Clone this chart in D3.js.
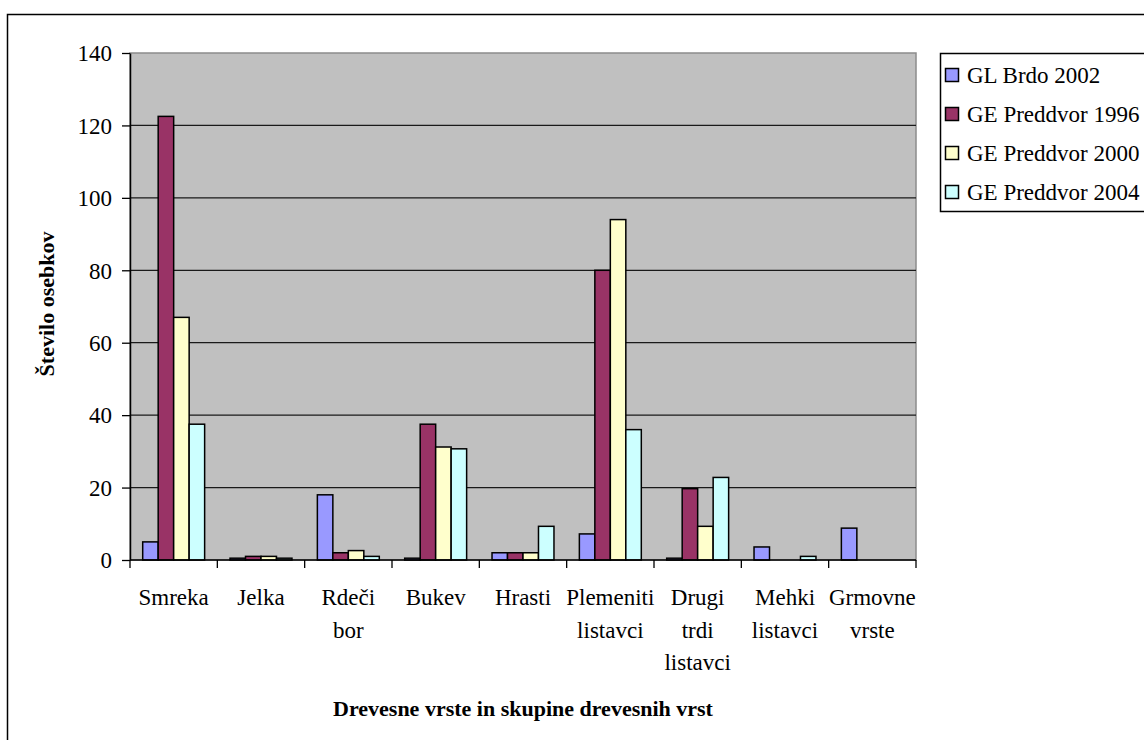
<!DOCTYPE html>
<html>
<head>
<meta charset="utf-8">
<script src="https://cdn.jsdelivr.net/npm/d3@7"></script>
<style>
  html, body { margin: 0; padding: 0; background: #fff; }
  svg { display: block; }
</style>
</head>
<body>
<svg id="chart" width="1144" height="740"></svg>
<script>
const FONT = "Liberation Serif";

// Tree species groups (x-axis categories, line breaks as drawn)
const categories = [
  ["Smreka"], ["Jelka"], ["Rdeči", "bor"], ["Bukev"], ["Hrasti"],
  ["Plemeniti", "listavci"], ["Drugi", "trdi", "listavci"],
  ["Mehki", "listavci"], ["Grmovne", "vrste"]
];
const seriesNames = ["GL Brdo 2002", "GE Preddvor 1996", "GE Preddvor 2000", "GE Preddvor 2004"];
const seriesColors = ["#9999FF", "#993366", "#FFFFCC", "#CCFFFF"];

// Number of individuals per series, in category order
const glBrdo2002      = [5, 0.5, 18, 0.5, 2, 7.2, 0.5, 3.6, 8.8];
const gePreddvor1996  = [122.5, 1, 2, 37.5, 2, 80, 19.7, 0, 0];
const gePreddvor2000  = [67, 1, 2.6, 31.2, 2, 94, 9.3, 0, 0];
const gePreddvor2004  = [37.5, 0.5, 1, 30.7, 9.3, 36, 22.8, 1, 0];
const seriesValues = [glBrdo2002, gePreddvor1996, gePreddvor2000, gePreddvor2004];

const yTicks = [0, 20, 40, 60, 80, 100, 120, 140];

const svg = d3.select("#chart");

// Outer chart frame
svg.append("rect")
  .attr("x", 7.5).attr("y", 14.5)
  .attr("width", 1160).attr("height", 760)
  .attr("fill", "#fff").attr("stroke", "#000").attr("stroke-width", 1.5);

const plot = { left: 130, right: 916, top: 53, bottom: 560 };

const catKeys = categories.map(c => c.join(" "));
const x0 = d3.scaleBand().domain(catKeys).range([plot.left, plot.right]).paddingInner(0).paddingOuter(0);
const x1 = d3.scaleBand().domain(d3.range(seriesNames.length)).range([0, x0.bandwidth()])
  .paddingInner(0).paddingOuter(0.82);
const y = d3.scaleLinear().domain([0, 140]).range([plot.bottom, plot.top]);

// Plot background
svg.append("rect")
  .attr("x", plot.left).attr("y", plot.top)
  .attr("width", plot.right - plot.left).attr("height", plot.bottom - plot.top)
  .attr("fill", "#C0C0C0").attr("stroke", "#8c8c8c").attr("stroke-width", 1.5);

// Horizontal gridlines
svg.append("g").selectAll("line")
  .data(yTicks.filter(t => t > 0 && t < 140))
  .join("line")
  .attr("x1", plot.left).attr("x2", plot.right)
  .attr("y1", d => y(d)).attr("y2", d => y(d))
  .attr("stroke", "#1a1a1a").attr("stroke-width", 1.3);

// Bars
const groups = svg.append("g").selectAll("g")
  .data(catKeys)
  .join("g")
  .attr("transform", d => `translate(${x0(d)},0)`);

groups.selectAll("rect")
  .data((d, ci) => seriesValues.map((vals, si) => ({ si, v: vals[ci] })).filter(e => e.v > 0))
  .join("rect")
  .attr("x", d => x1(d.si))
  .attr("width", x1.bandwidth())
  .attr("y", d => y(d.v))
  .attr("height", d => y(0) - y(d.v))
  .attr("fill", d => seriesColors[d.si])
  .attr("stroke", "#000").attr("stroke-width", 1.5);

// Y axis
const yAxis = svg.append("g")
  .attr("transform", `translate(${plot.left},0)`)
  .call(d3.axisLeft(y).tickValues(yTicks).tickSize(8).tickPadding(10).tickSizeOuter(0))
  .attr("font-family", FONT).attr("font-size", 23);
yAxis.select(".domain").attr("stroke", "#000").attr("stroke-width", 1.5);
yAxis.selectAll(".tick line").attr("stroke", "#000").attr("stroke-width", 1.3);
yAxis.selectAll(".tick text")
  .attr("font-family", FONT).attr("font-size", 23).attr("fill", "#000")
  .attr("dy", "0.34em");

// X axis (category ticks at band boundaries)
const xAxis = svg.append("g").attr("transform", `translate(0,${plot.bottom})`);
xAxis.append("line")
  .attr("x1", plot.left).attr("x2", plot.right)
  .attr("stroke", "#000").attr("stroke-width", 1.5);
const boundaries = catKeys.map(k => x0(k)).concat([plot.right]);
xAxis.selectAll("line.tick")
  .data(boundaries)
  .join("line")
  .attr("class", "tick")
  .attr("x1", d => d).attr("x2", d => d)
  .attr("y1", 0).attr("y2", 8)
  .attr("stroke", "#000").attr("stroke-width", 1.3);

const catLabels = svg.append("g").selectAll("text")
  .data(categories)
  .join("text")
  .attr("x", (d, i) => x0(catKeys[i]) + x0.bandwidth() / 2)
  .attr("y", 605)
  .attr("text-anchor", "middle")
  .attr("font-family", FONT)
  .attr("font-size", 23)
  .attr("fill", "#000");
catLabels.selectAll("tspan")
  .data(d => d)
  .join("tspan")
  .attr("x", function () { return d3.select(this.parentNode).attr("x"); })
  .attr("dy", (d, i) => i === 0 ? 0 : 32.5)
  .text(d => d);

// Axis titles
svg.append("text")
  .attr("x", 523).attr("y", 716)
  .attr("text-anchor", "middle")
  .attr("font-family", FONT)
  .attr("font-size", 22).attr("font-weight", "bold")
  .text("Drevesne vrste in skupine drevesnih vrst");

svg.append("text")
  .attr("transform", "translate(54,304) rotate(-90)")
  .attr("text-anchor", "middle")
  .attr("font-family", FONT)
  .attr("font-size", 22).attr("font-weight", "bold")
  .text("Število osebkov");

// Legend
const legend = svg.append("g");
legend.append("rect")
  .attr("x", 940.5).attr("y", 53.5)
  .attr("width", 260).attr("height", 158)
  .attr("fill", "#fff").attr("stroke", "#000").attr("stroke-width", 1.5);
const items = legend.selectAll("g.item")
  .data(seriesNames)
  .join("g")
  .attr("class", "item")
  .attr("transform", (d, i) => `translate(0,${75 + i * 39})`);
items.append("rect")
  .attr("x", 945.5).attr("y", -6.5)
  .attr("width", 13).attr("height", 13)
  .attr("fill", (d, i) => seriesColors[i])
  .attr("stroke", "#000").attr("stroke-width", 1.5);
items.append("text")
  .attr("x", 967).attr("y", 0).attr("dy", "0.35em")
  .attr("font-family", FONT)
  .attr("font-size", 23)
  .text(d => d);
</script>
</body>
</html>
